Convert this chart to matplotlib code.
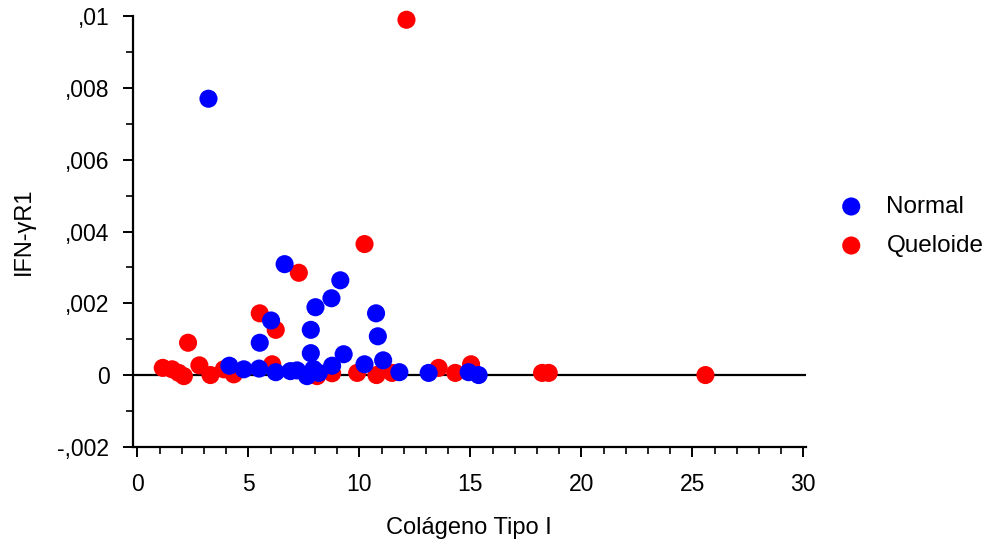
import matplotlib
matplotlib.use("Agg")
from matplotlib import pyplot as plt
from matplotlib.ticker import MultipleLocator, FuncFormatter

plt.rcParams['font.family'] = ['Liberation Sans', 'DejaVu Sans']

# Colágeno tipo I vs IFN-γR1, grupo normal
normal_x = [3.2, 6.63, 9.14, 8.74, 8.02, 6.02, 10.75, 10.83, 7.81, 5.51,
            7.81, 9.29, 10.23, 11.07, 4.14, 4.79, 5.48, 6.23, 6.89, 7.19,
            7.64, 7.93, 8.17, 8.77, 11.8, 13.12, 14.92, 15.37]
normal_y = [0.0077, 0.00309, 0.00264, 0.00214, 0.00189, 0.00152, 0.00172, 0.00108, 0.00126, 0.0009,
            0.00061, 0.00058, 0.0003, 0.00041, 0.00026, 0.00016, 0.00018, 0.00008, 0.00011, 0.00013,
            -0.00003, 0.00017, 0.00006, 0.00026, 0.00008, 0.00006, 0.00008, 0.0]

# grupo queloide
queloide_x = [12.12, 10.23, 7.27, 5.51, 6.23, 2.28, 1.14, 1.56, 1.86, 2.09,
              2.79, 3.29, 3.89, 4.34, 6.07, 8.09, 8.77, 9.9, 10.77, 11.47,
              13.57, 14.32, 15.03, 18.23, 18.53, 25.59]
queloide_y = [0.0099, 0.00365, 0.00285, 0.00172, 0.00126, 0.0009, 0.0002, 0.00016, 0.00006, -0.00003,
              0.00027, 0.0, 0.00016, 0.00002, 0.0003, -0.00003, 0.00005, 0.00006, 0.0, 0.00006,
              0.0002, 0.00006, 0.0003, 0.00006, 0.00006, 0.0]

fig = plt.figure(figsize=(9.89, 5.39), dpi=100)
ax = fig.add_axes([0.1345, 0.171, 0.68, 0.799])

ax.axhline(0, color='black', lw=1.6, zorder=1)
ax.scatter(queloide_x, queloide_y, s=170, color='#ff0000', edgecolors='none',
           label='Queloide', zorder=2, clip_on=False)
ax.scatter(normal_x, normal_y, s=170, color='#0000ff', edgecolors='none',
           label='Normal', zorder=3, clip_on=False)

ax.set_xlim(-0.2, 30.1)
ax.set_ylim(-0.002, 0.01)

ax.xaxis.set_major_locator(MultipleLocator(5))
ax.xaxis.set_minor_locator(MultipleLocator(1))
ax.yaxis.set_major_locator(MultipleLocator(0.002))
ax.yaxis.set_minor_locator(MultipleLocator(0.001))


def fmt_y(v, pos):
    if abs(v) < 1e-12:
        return '0'
    s = ('%g' % v).replace('0.', '.', 1).replace('.', ',')
    return s


ax.yaxis.set_major_formatter(FuncFormatter(fmt_y))

for side in ['top', 'right']:
    ax.spines[side].set_visible(False)
for side in ['left', 'bottom']:
    ax.spines[side].set_linewidth(1.6)

ax.tick_params(which='major', length=7, width=1.4, labelsize=16.5)
ax.tick_params(axis='x', which='major', pad=12)
ax.tick_params(axis='y', which='major', pad=10)
ax.tick_params(which='minor', length=5, width=1.2)

ax.set_xlabel('Colágeno Tipo I', fontsize=17, labelpad=15)
ax.set_ylabel('IFN-γR1', fontsize=17, labelpad=16)

handles, labels = ax.get_legend_handles_labels()
fig.legend(handles[::-1], labels[::-1], loc='center left', bbox_to_anchor=(0.814, 0.58),
           frameon=False, fontsize=17.5, handletextpad=0.45, labelspacing=0.7, scatterpoints=1)

fig.savefig('out.png', dpi=100)
